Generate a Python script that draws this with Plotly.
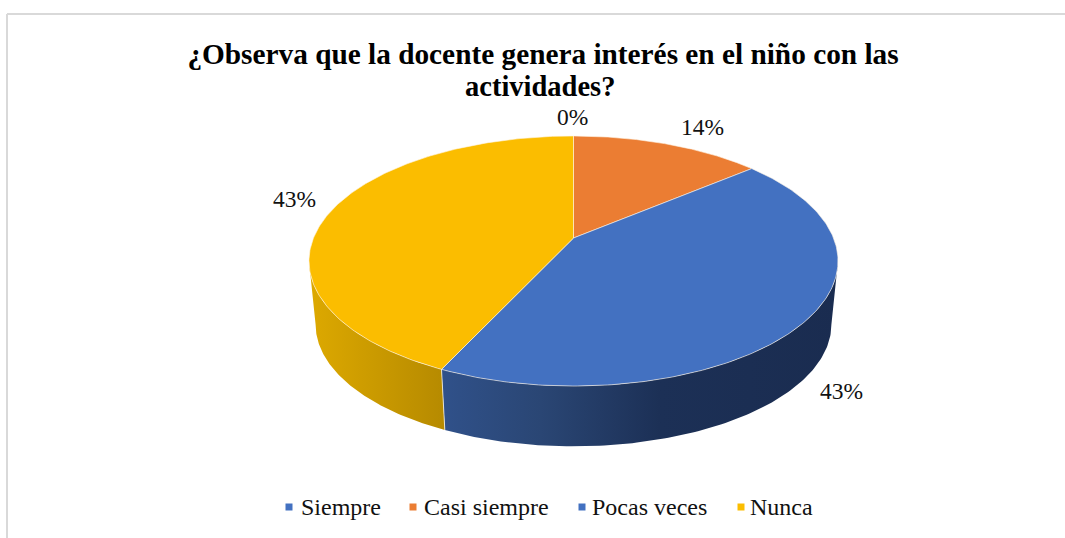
import numpy as np
import plotly.graph_objects as go

TITLE_LINE_1 = "¿Observa que la docente genera interés en el niño con las"
TITLE_LINE_2 = "actividades?"
categories = ["Siempre", "Casi siempre", "Pocas veces", "Nunca"]
values = [0, 13.9, 43.05, 43.05]
colors = ["#4371C1", "#EB7D33", "#4371C1", "#FBBD00"]
side_gradients = [
    [[0, "#2F5085"], [1, "#2F5085"]],
    [[0, "#A85A20"], [1, "#8E4B1A"]],
    [[0, "#30518A"], [0.25, "#2A4674"], [0.55, "#1C3056"], [1, "#1A2C50"]],
    [[0, "#DDA900"], [1, "#B68A00"]],
]
label_xy = [(572, 117), (702, 127), (841, 391), (294, 199)]
legend_marker_x = [289, 413, 582, 741]
legend_text_x = [299, 422, 590, 748]
LEGEND_Y = 507

# pie projection (tilted disc with perspective)
CX, CY = 573.5, 238.0
AX, BY, K = 260.0, 120.8, 0.184
DEPTH_SHIFT, DEPTH_SCALE = 64.0, 0.975
FONT = "Liberation Serif"


def rim(theta, scale=1.0, shift=0.0):
    u, v = np.sin(theta), np.cos(theta)
    w = 1 + K * v
    return CX + scale * AX * u / w, CY + shift + scale * BY * (-v) / w


total = sum(values)
fractions = np.array(values) / total
starts = 2 * np.pi * np.concatenate([[0], np.cumsum(fractions)[:-1]])
ends = starts + 2 * np.pi * fractions
# silhouette angles: the disc's widest points, where v = -K
t_right = np.pi - np.arcsin(np.sqrt(1 - K * K))
t_left = 2 * np.pi - t_right

fig = go.Figure()

for s, e, grad in zip(starts, ends, side_gradients):
    a, b = max(s, t_right), min(e, t_left)
    if b <= a:
        continue
    t = np.linspace(a, b, 120)
    x1, y1 = rim(t)
    x2, y2 = rim(t[::-1], DEPTH_SCALE, DEPTH_SHIFT)
    fig.add_trace(go.Scatter(
        x=np.concatenate([x1, x2]), y=np.concatenate([y1, y2]), mode="lines",
        fill="toself", fillgradient=dict(type="horizontal", colorscale=grad),
        line=dict(color="rgba(255,255,255,0)", width=0), showlegend=False, hoverinfo="skip"))

for s, e, c in zip(starts, ends, colors):
    if e <= s:
        continue
    t = np.linspace(s, e, 200)
    x, y = rim(t)
    fig.add_trace(go.Scatter(
        x=np.concatenate([[CX], x, [CX]]), y=np.concatenate([[CY], y, [CY]]), mode="lines",
        fill="toself", fillcolor=c, line=dict(color="rgba(255,245,230,0.6)", width=1),
        showlegend=False, hoverinfo="skip"))

# corner seam between the two visible sides
for e in ends:
    if t_right < e < t_left:
        xa, ya = rim(np.array([e]))
        xb, yb = rim(np.array([e]), DEPTH_SCALE, DEPTH_SHIFT)
        fig.add_trace(go.Scatter(x=[xa[0], xb[0]], y=[ya[0], yb[0]], mode="lines",
                                 line=dict(color="rgba(255,255,255,0.7)", width=1),
                                 showlegend=False, hoverinfo="skip"))

# legend row
for name, c, mx in zip(categories, colors, legend_marker_x):
    fig.add_trace(go.Scatter(x=[mx], y=[LEGEND_Y], mode="markers", name=name, showlegend=False,
                             marker=dict(symbol="square", size=7, color=c, line=dict(width=0))))

annotations = [
    dict(x=px, y=py, text=f"{round(100 * f)}%", showarrow=False, xref="x", yref="y",
         font=dict(family=FONT, size=23.5, color="#111111"))
    for (px, py), f in zip(label_xy, fractions)
]
annotations += [
    dict(x=tx, y=LEGEND_Y, text=name, showarrow=False, xref="x", yref="y", xanchor="left",
         font=dict(family=FONT, size=24, color="#111111"))
    for name, tx in zip(categories, legend_text_x)
]
annotations.append(dict(x=540, y=86, text=f"<b>{TITLE_LINE_2}</b>", showarrow=False, xref="x", yref="y",
                        font=dict(family=FONT, size=28.5, color="#000000")))

fig.update_layout(
    width=1065, height=538, autosize=False,
    margin=dict(l=0, r=0, t=0, b=0),
    paper_bgcolor="white", plot_bgcolor="white", showlegend=False,
    title=dict(text=f"<b>{TITLE_LINE_1}</b>", x=543 / 1065, xanchor="center", xref="paper",
               y=1 - 54 / 538, yanchor="middle",
               font=dict(family=FONT, size=29.3, color="#000000")),
    xaxis=dict(range=[0, 1065], visible=False, fixedrange=True),
    yaxis=dict(range=[538, 0], visible=False, fixedrange=True),
    annotations=annotations,
    shapes=[
        dict(type="line", xref="paper", yref="paper", x0=7 / 1065, x1=1, y0=1 - 14 / 538, y1=1 - 14 / 538,
             line=dict(color="#D9D9D9", width=2)),
        dict(type="line", xref="paper", yref="paper", x0=7 / 1065, x1=7 / 1065, y0=1 - 14 / 538, y1=0,
             line=dict(color="#D9D9D9", width=2)),
    ],
)
fig.write_html("out.html", config={"displayModeBar": False},
               post_script="document.body.style.margin='0';document.body.style.overflow='hidden';")
